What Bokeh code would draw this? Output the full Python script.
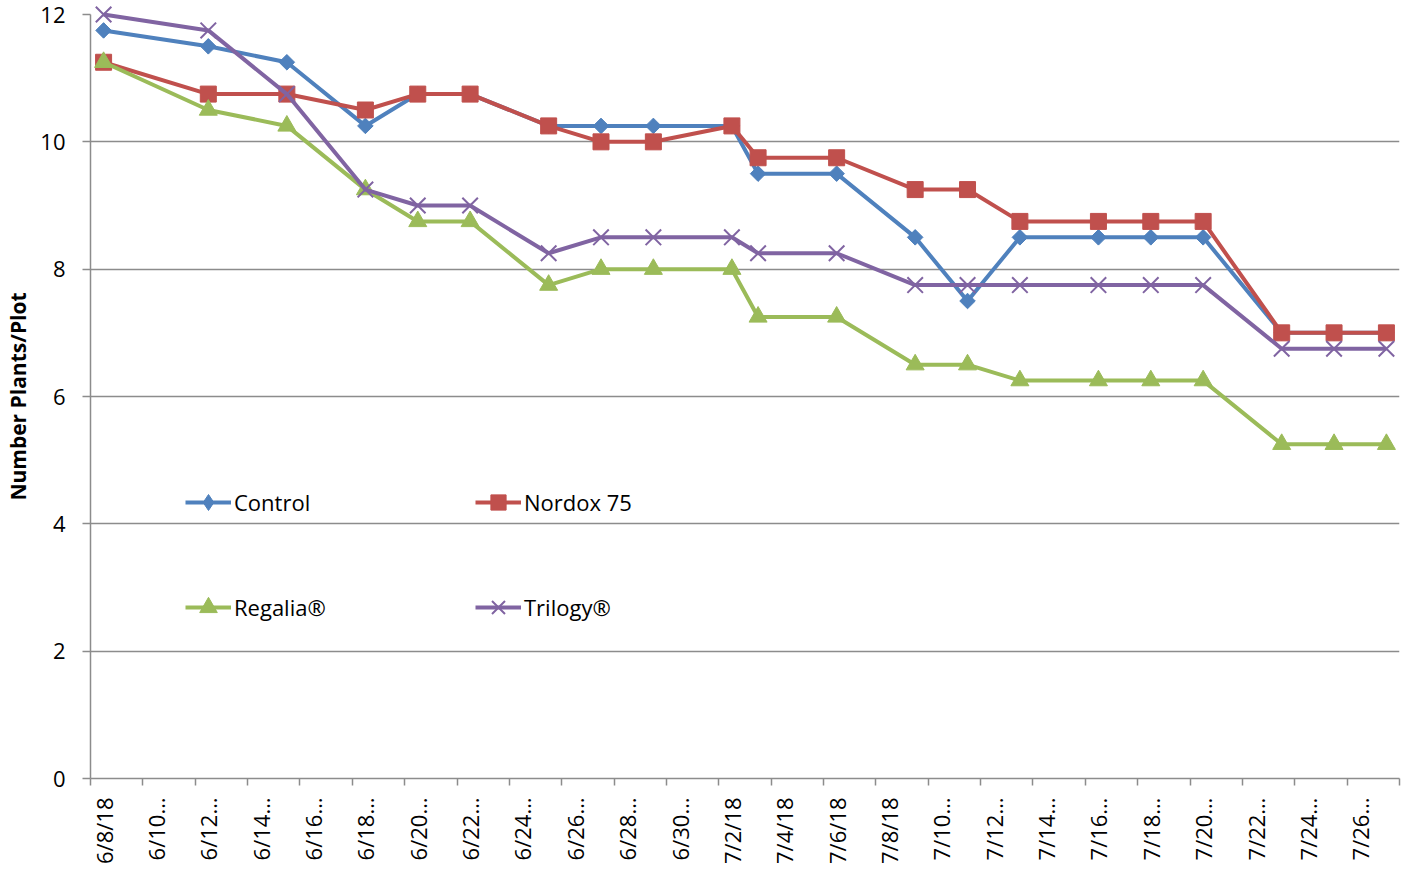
import math
import pandas as pd
from bokeh.plotting import figure
from bokeh.models import Range1d, FixedTicker, Legend, LegendItem, ColumnDataSource
from bokeh.embed import file_html
from bokeh.resources import INLINE

# ---------------- data ----------------
dates = ["6/8/18", "6/12/18", "6/15/18", "6/18/18", "6/20/18", "6/22/18", "6/25/18",
         "6/27/18", "6/29/18", "7/2/18", "7/3/18", "7/6/18", "7/9/18", "7/11/18",
         "7/13/18", "7/16/18", "7/18/18", "7/20/18", "7/23/18", "7/25/18", "7/27/18"]

control = [11.75, 11.5, 11.25, 10.25, 10.75, 10.75, 10.25, 10.25, 10.25, 10.25, 9.5,
           9.5, 8.5, 7.5, 8.5, 8.5, 8.5, 8.5, 7.0, 7.0, 7.0]
nordox = [11.25, 10.75, 10.75, 10.5, 10.75, 10.75, 10.25, 10.0, 10.0, 10.25, 9.75,
          9.75, 9.25, 9.25, 8.75, 8.75, 8.75, 8.75, 7.0, 7.0, 7.0]
regalia = [11.25, 10.5, 10.25, 9.25, 8.75, 8.75, 7.75, 8.0, 8.0, 8.0, 7.25,
           7.25, 6.5, 6.5, 6.25, 6.25, 6.25, 6.25, 5.25, 5.25, 5.25]
trilogy = [12.0, 11.75, 10.75, 9.25, 9.0, 9.0, 8.25, 8.5, 8.5, 8.5, 8.25,
           8.25, 7.75, 7.75, 7.75, 7.75, 7.75, 7.75, 6.75, 6.75, 6.75]

series_names = ["Control", "Nordox 75", "Regalia\u00ae", "Trilogy\u00ae"]

tick_labels = ["6/8/18", "6/10\u2026", "6/12\u2026", "6/14\u2026", "6/16\u2026", "6/18\u2026",
               "6/20\u2026", "6/22\u2026", "6/24\u2026", "6/26\u2026", "6/28\u2026", "6/30\u2026",
               "7/2/18", "7/4/18", "7/6/18", "7/8/18", "7/10\u2026", "7/12\u2026",
               "7/14\u2026", "7/16\u2026", "7/18\u2026", "7/20\u2026", "7/22\u2026",
               "7/24\u2026", "7/26\u2026"]
y_ticks = [0, 2, 4, 6, 8, 10, 12]
axis_start = "6/8/18"
axis_end = "7/28/18"
y_title = "Number Plants/Plot"

# ---------------- derived positions (day index, centred in day slot) ----------------
start = pd.to_datetime(axis_start, format="%m/%d/%y")
end = pd.to_datetime(axis_end, format="%m/%d/%y")
day_x = [float(d) + 0.5 for d in (pd.to_datetime(dates, format="%m/%d/%y") - start).days]
span = (end - start).days

src = ColumnDataSource(dict(x=day_x, control=control, nordox=nordox,
                            regalia=regalia, trilogy=trilogy))

GRAY = "#8c8c8c"
FONT = "Open Sans"

p = figure(width=1401, height=866, output_backend="svg", toolbar_location=None,
           x_range=Range1d(0, span), y_range=Range1d(0, 12),
           min_border_left=90, min_border_right=2, min_border_top=14,
           min_border_bottom=88)
p.outline_line_color = None
p.background_fill_color = "white"
p.border_fill_color = "white"

# x axis
major = [2 * i + 0.5 for i in range(len(tick_labels))]
minor = [2 * i for i in range(len(tick_labels) + 1)]
p.xaxis.ticker = FixedTicker(ticks=major, minor_ticks=minor)
p.xaxis.major_label_overrides = {m: lab for m, lab in zip(major, tick_labels)}
p.xaxis.major_label_orientation = math.pi / 2
p.xaxis.major_tick_in = 0
p.xaxis.major_tick_out = 0
p.xaxis.minor_tick_in = 0
p.xaxis.minor_tick_out = 7
p.xaxis.minor_tick_line_color = GRAY
p.xaxis.minor_tick_line_width = 1.5
p.xaxis.axis_line_color = GRAY
p.xaxis.axis_line_width = 1.5
p.xaxis.major_label_standoff = 12
p.xaxis.major_label_text_font = FONT
p.xaxis.major_label_text_font_size = "22px"
p.xaxis.major_label_text_color = "black"
p.xgrid.visible = False

# y axis
p.yaxis.ticker = FixedTicker(ticks=y_ticks)
p.yaxis.major_tick_in = 0
p.yaxis.major_tick_out = 8
p.yaxis.major_tick_line_color = GRAY
p.yaxis.major_tick_line_width = 1.5
p.yaxis.minor_tick_line_color = None
p.yaxis.axis_line_color = GRAY
p.yaxis.axis_line_width = 1.5
p.yaxis.major_label_standoff = 17
p.yaxis.major_label_text_font = FONT
p.yaxis.major_label_text_font_size = "22px"
p.yaxis.major_label_text_color = "black"
p.yaxis.axis_label = y_title
p.yaxis.axis_label_text_font = FONT
p.yaxis.axis_label_text_font_style = "bold"
p.yaxis.axis_label_text_font_size = "21px"
p.yaxis.axis_label_text_color = "black"
p.yaxis.axis_label_standoff = 5
p.ygrid.grid_line_color = GRAY
p.ygrid.grid_line_width = 1.5

colors = ["#4F81BD", "#C0504D", "#9BBB59", "#8064A2"]
cols = ["control", "nordox", "regalia", "trilogy"]
markers = [dict(marker="square", size=11, angle=math.pi / 4),
           dict(marker="square", size=16),
           dict(marker="triangle", size=18),
           dict(marker="x", size=22)]
legend_glyph_h = [40, 38, 44, 50]

# legend item centres, px from frame bottom-left
legend_pos = [(95, 276), (385, 276), (95, 171), (385, 171)]

for name, col, color, mk, gh, (lx, cy) in zip(series_names, cols, colors, markers,
                                              legend_glyph_h, legend_pos):
    lr = p.line("x", col, source=src, line_color=color, line_width=4, level="overlay")
    legend_rs = [lr]
    if mk["marker"] == "x":
        sr = p.scatter("x", col, source=src, marker="x", size=mk["size"],
                       line_color=color, line_width=2, level="overlay")
        legend_rs.append(sr)
    elif mk.get("angle"):
        # diamond look-alike for the legend (hidden under the rotated squares)
        dr = p.scatter("x", col, source=src, marker="diamond", size=14,
                       fill_color=color, line_color=color, level="overlay")
        sr = p.scatter("x", col, source=src, marker="square", size=mk["size"],
                       angle=mk["angle"], fill_color=color, line_color=color,
                       line_width=1, level="overlay")
        legend_rs.append(dr)
    else:
        sr = p.scatter("x", col, source=src, marker=mk["marker"], size=mk["size"],
                       fill_color=color, line_color=color, line_width=1,
                       level="overlay")
        legend_rs.append(sr)
    leg = Legend(items=[LegendItem(label=name, renderers=legend_rs)],
                 location=(lx, cy - gh / 2), glyph_width=46, glyph_height=gh,
                 label_height=gh, label_standoff=3, padding=0, margin=0, spacing=0,
                 border_line_color=None, background_fill_alpha=0,
                 label_text_font=FONT, label_text_font_size="22px",
                 label_text_color="black")
    p.add_layout(leg)

open("out.html", "w").write(file_html(p, INLINE))
